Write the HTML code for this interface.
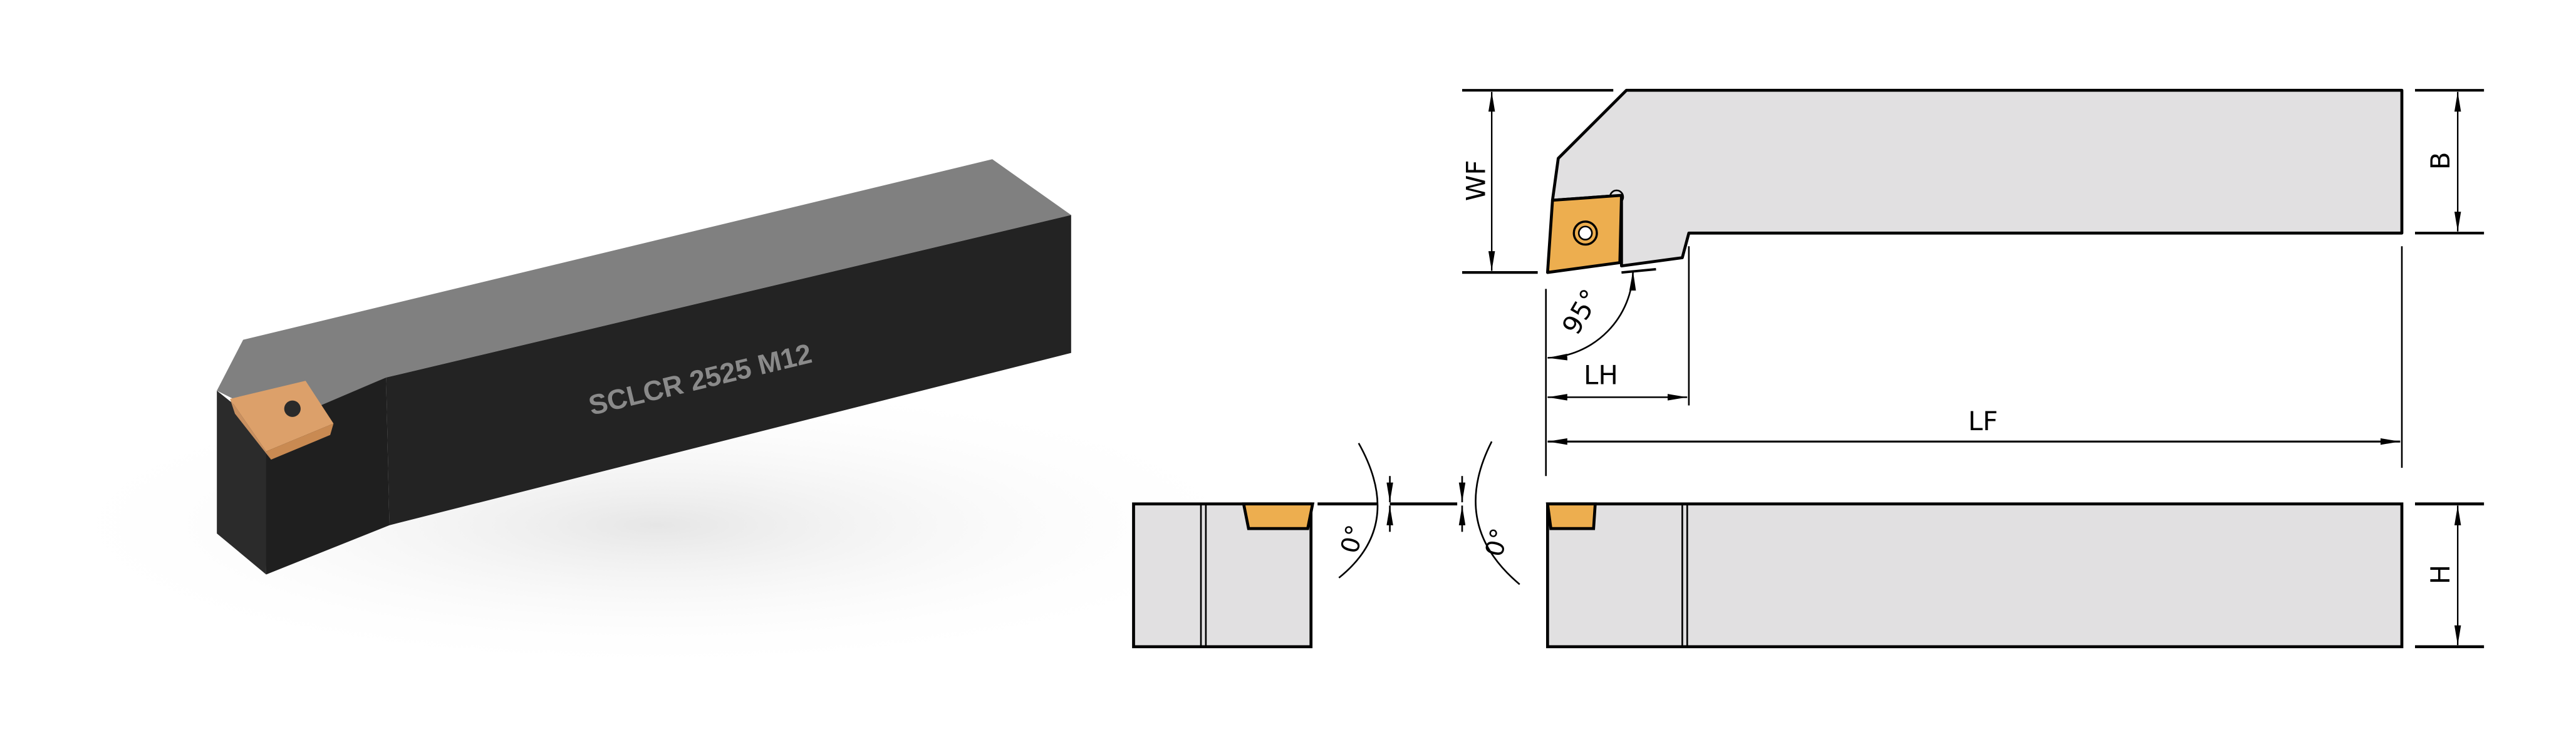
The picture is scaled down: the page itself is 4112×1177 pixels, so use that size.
<!DOCTYPE html>
<html><head><meta charset="utf-8"><style>
html,body{margin:0;padding:0;background:#fff;}
svg{display:block;}
text{font-family:"DejaVu Sans","Liberation Sans",sans-serif;}
text.lbl{font-family:"Liberation Sans",sans-serif;font-weight:bold;}
</style></head><body>
<svg width="4112" height="1177" viewBox="0 0 1568 449" preserveAspectRatio="none" xmlns="http://www.w3.org/2000/svg">
<defs>
<marker id="ar" viewBox="0 0 12 4" refX="12" refY="2" markerWidth="12" markerHeight="4" markerUnits="userSpaceOnUse" orient="auto-start-reverse"><path d="M0,0 L12,2 L0,4 Z" fill="#000"/></marker>
<radialGradient id="sh" cx="0.5" cy="0.5" r="0.5"><stop offset="0" stop-color="#e6e6e6"/><stop offset="1" stop-color="#fff" stop-opacity="0"/></radialGradient>
</defs>
<rect width="1568" height="449" fill="#fff"/>
<!-- 3D render -->
<ellipse cx="400" cy="320" rx="380" ry="90" fill="url(#sh)"/>
<polygon points="132,238 148,207 604,97 652,131 235,230 172,258" fill="#808080"/>
<polygon points="235,230 652,131 652,215 237,320" fill="#232323"/>
<polygon points="160,262 235,230 237,320 162,350" fill="#1f1f1f"/>
<polygon points="132,238 162,262 162,350 132,325" fill="#2b2b2b"/>
<polygon points="140,243 186,232 203,258 162,275" fill="#dca06a"/>
<polygon points="162,275 203,258 201,265 165,280" fill="#c98a52"/>
<polygon points="140,243 162,275 165,280 143,252" fill="#c99060"/>
<circle cx="178" cy="249" r="5" fill="#2a2a2a"/>
<text class="lbl" transform="translate(360,253) rotate(-13.5)" font-size="17" fill="#8a8a8a">SCLCR 2525 M12</text>

<!-- Top view -->
<g stroke="#000" stroke-linejoin="round">
<polygon points="990,55 1462,55 1462,142 1028,142 1024,157 987,162 987,119 945,122 948.5,96.5" fill="#e1e0e1" stroke-width="1.8"/>
<circle cx="984" cy="120" r="4" fill="#e1e0e1" stroke-width="1"/>
<polygon points="945,122 987,119 986,160 942,166" fill="#edae4f" stroke-width="1.8"/>
<circle cx="965" cy="142" r="7" fill="#edae4f" stroke-width="1.3"/>
<circle cx="965" cy="142" r="4" fill="#fff" stroke-width="1"/>
<line x1="987" y1="166" x2="1008" y2="164" stroke-width="1.5"/>
</g>
<g stroke="#000" fill="none">
<line x1="890" y1="55" x2="982" y2="55" stroke-width="1.6"/>
<line x1="890" y1="166" x2="936" y2="166" stroke-width="1.6"/>
<line x1="908" y1="56" x2="908" y2="165" stroke-width="0.9" marker-start="url(#ar)" marker-end="url(#ar)"/>
<line x1="1470" y1="55" x2="1512" y2="55" stroke-width="1.6"/>
<line x1="1470" y1="142" x2="1512" y2="142" stroke-width="1.6"/>
<line x1="1496" y1="56" x2="1496" y2="141" stroke-width="0.9" marker-start="url(#ar)" marker-end="url(#ar)"/>
<line x1="941" y1="176" x2="941" y2="290" stroke-width="1"/>
<line x1="1028" y1="150" x2="1028" y2="247" stroke-width="1"/>
<line x1="1462" y1="150" x2="1462" y2="285" stroke-width="1"/>
<line x1="942" y1="242" x2="1027" y2="242" stroke-width="1" marker-start="url(#ar)" marker-end="url(#ar)"/>
<line x1="942" y1="269" x2="1461" y2="269" stroke-width="1.2" marker-start="url(#ar)" marker-end="url(#ar)"/>
<path d="M942,218 A54,54 0 0 0 994,165" stroke-width="1" marker-start="url(#ar)" marker-end="url(#ar)"/>
</g>
<text transform="translate(904,110) rotate(-90)" text-anchor="middle" font-size="16">WF</text>
<text transform="translate(1491,98) rotate(-90)" text-anchor="middle" font-size="16">B</text>
<text x="964" y="234" font-size="16">LH</text>
<text x="1198" y="262" font-size="16">LF</text>
<text transform="translate(960,205) rotate(-60)" font-size="16">95°</text>

<!-- Bottom views -->
<g stroke="#000" stroke-width="1.8">
<rect x="690" y="307" width="108" height="87" fill="#e1e0e1"/>
<line x1="731" y1="307" x2="731" y2="394" stroke-width="1"/>
<line x1="734" y1="307" x2="734" y2="394" stroke-width="1"/>
<polygon points="757,307 799,307 796,322 760,322" fill="#edae4f"/>
<rect x="942" y="307" width="520" height="87" fill="#e1e0e1"/>
<line x1="1024" y1="307" x2="1024" y2="394" stroke-width="1"/>
<line x1="1027" y1="307" x2="1027" y2="394" stroke-width="1"/>
<polygon points="942,307 971,307 970,322 944,322" fill="#edae4f"/>
<line x1="802" y1="307" x2="838" y2="307"/>
<line x1="846" y1="307" x2="887" y2="307"/>
<line x1="1470" y1="307" x2="1512" y2="307"/>
<line x1="1470" y1="394" x2="1512" y2="394"/>
</g>
<g stroke="#000" fill="none" stroke-width="1">
<path d="M827,270 Q855,320 815,352"/>
<path d="M908,269 Q882,320 925,356"/>
<line x1="846" y1="290" x2="846" y2="306" marker-end="url(#ar)"/>
<line x1="846" y1="324" x2="846" y2="308" marker-end="url(#ar)"/>
<line x1="890" y1="290" x2="890" y2="306" marker-end="url(#ar)"/>
<line x1="890" y1="324" x2="890" y2="308" marker-end="url(#ar)"/>
<line x1="1496" y1="308" x2="1496" y2="393" stroke-width="0.9" marker-start="url(#ar)" marker-end="url(#ar)"/>
</g>
<text transform="translate(826,338) rotate(-75)" font-size="15">0°</text>
<text transform="translate(914,340) rotate(-75)" font-size="15">0°</text>
<text transform="translate(1491,350) rotate(-90)" text-anchor="middle" font-size="16">H</text>
</svg>
</body></html>
